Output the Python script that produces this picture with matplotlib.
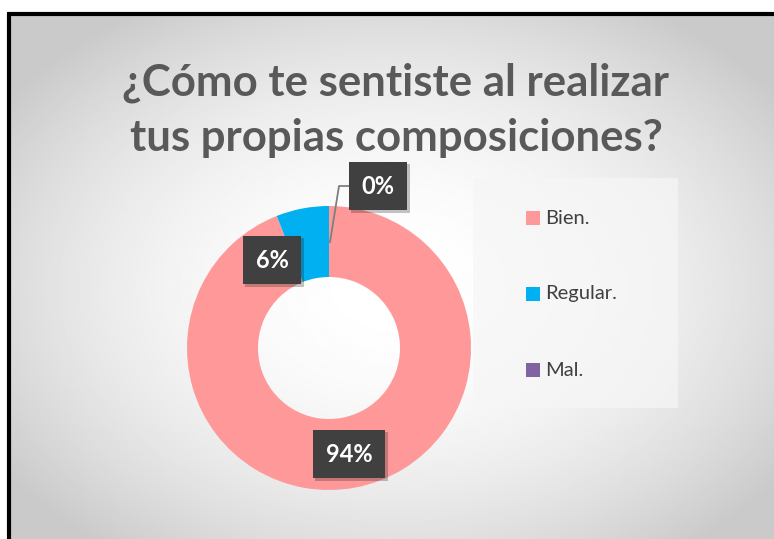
import numpy as np
import matplotlib
matplotlib.use("Agg")
import matplotlib.pyplot as plt
from matplotlib.patches import Rectangle
import matplotlib.patheffects as pe

categories = ["Bien.", "Regular.", "Mal."]
values = [94, 6, 0]
colors = ["#ff9999", "#00b0f0", "#8064a2"]
title = "¿Cómo te sentiste al realizar\ntus propias composiciones?"

W, H = 774, 539
fig = plt.figure(figsize=(W / 100, H / 100), dpi=100)
ax = fig.add_axes([0, 0, 1, 1])
ax.set_xlim(0, W)
ax.set_ylim(0, H)
ax.set_aspect("equal")
ax.axis("off")

# radial gradient background inside the chart frame
yy, xx = np.mgrid[0:H, 0:W]
r = np.sqrt(((xx - 390) / 480.0) ** 2 + ((yy - 280) / 340.0) ** 2)
bg = 1.0 - 0.21 * np.clip(r, 0, 1) ** 2.0
ax.imshow(bg, cmap="gray", vmin=0, vmax=1, extent=[10, W, 0, H - 14],
          origin="upper", zorder=0, aspect="auto")
ax.add_patch(Rectangle((0, H - 12), W, 12, color="white", zorder=1, lw=0))
ax.add_patch(Rectangle((0, 0), 7, H, color="white", zorder=1, lw=0))
ax.plot([8.5, 8.5], [0, H - 13.5], color="black", lw=3, zorder=2, solid_capstyle="butt")
ax.plot([7, W], [H - 13.5, H - 13.5], color="black", lw=3, zorder=2, solid_capstyle="butt")

# legend panel
ax.add_patch(Rectangle((473, H - 408), 205, 230, facecolor="#f6f6f6", alpha=0.7,
                       lw=0, zorder=1))

ax.text(396, H - 110, title, ha="center", va="center", fontsize=31.5,
        fontweight="bold", color="#595959", family="Lato", linespacing=1.45, zorder=3)

cx, cy, R = 329, H - 348, 142
wedges, _ = ax.pie(values, colors=colors, startangle=90, counterclock=False,
                   radius=R, center=(cx, cy), frame=True,
                   wedgeprops=dict(width=R * 0.5, linewidth=0))
for w in wedges:
    w.set_zorder(3)
ax.set_xlim(0, W)
ax.set_ylim(0, H)
ax.axis("off")

# data labels
tot = sum(values)
label_pos = [(349, H - 454), (272, H - 260), (378, H - 186)]
shadow = [pe.SimplePatchShadow(offset=(2, -2), alpha=0.25), pe.Normal()]
for v, (lx, ly) in zip(values, label_pos):
    t = ax.text(lx, ly, f"{round(100 * v / tot)}%", ha="center", va="center",
                fontsize=17, fontweight="bold", color="white", family="Lato",
                zorder=6,
                bbox=dict(boxstyle="square,pad=0.55", facecolor="#404040", edgecolor="none"))
    t.get_bbox_patch().set_path_effects(shadow)

# leader line for the 0% label
ax.plot([330, 339, 352], [H - 242, H - 186, H - 186], color="#7f7f7f", lw=1.3, zorder=5)

# legend
for i, (c, col) in enumerate(zip(categories, colors)):
    ly = H - (218 + 76 * i)
    ax.add_patch(Rectangle((526, ly - 7), 14, 14, facecolor=col, lw=0, zorder=4))
    ax.text(545, ly, c, ha="left", va="center", fontsize=14.5, color="#404040",
            family="Lato", zorder=4)

fig.savefig("out.png", dpi=100)
